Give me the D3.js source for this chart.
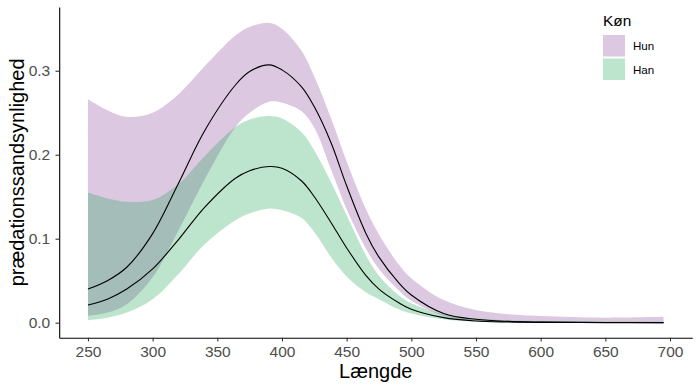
<!DOCTYPE html>
<html>
<head>
<meta charset="utf-8">
<script src="https://cdn.jsdelivr.net/npm/d3@7"></script>
<style>
  html, body { margin: 0; padding: 0; background: #fff; }
  svg { display: block; font-family: "Liberation Sans", Arial, Helvetica, sans-serif; }
</style>
</head>
<body>
<svg id="chart" width="700" height="389"></svg>
<script>
// længde (x) som kurverne er aflæst ved
const lengde = [250, 265, 280, 300, 320, 340, 364, 375, 390, 400, 415, 425, 438, 450, 465, 475, 490, 500, 525, 550, 575, 600, 650, 695];

// Hun: fit + konfidensbånd
const hunFit = [0.040, 0.050, 0.066, 0.106, 0.166, 0.228, 0.283, 0.299, 0.307, 0.301, 0.281, 0.257, 0.214, 0.163, 0.106, 0.078, 0.048, 0.033, 0.011, 0.004, 0.0015, 0.0007, 0.0002, 0.0001];
const hunLo  = [0.008, 0.012, 0.022, 0.054, 0.110, 0.170, 0.233, 0.250, 0.263, 0.262, 0.252, 0.232, 0.182, 0.135, 0.088, 0.064, 0.039, 0.026, 0.008, 0.002, 0.0008, 0.0003, 0.0001, 0.0];
const hunHi  = [0.266, 0.253, 0.245, 0.250, 0.272, 0.305, 0.342, 0.352, 0.357, 0.350, 0.324, 0.293, 0.243, 0.192, 0.135, 0.105, 0.070, 0.053, 0.027, 0.015, 0.010, 0.008, 0.006, 0.007];

// Han: fit + konfidensbånd
const hanFit = [0.021, 0.028, 0.040, 0.064, 0.099, 0.137, 0.172, 0.181, 0.186, 0.184, 0.169, 0.150, 0.119, 0.089, 0.056, 0.040, 0.024, 0.016, 0.006, 0.002, 0.0008, 0.0003, 0.0001, 0.0];
const hanLo  = [0.003, 0.006, 0.012, 0.028, 0.058, 0.093, 0.122, 0.130, 0.136, 0.134, 0.125, 0.108, 0.078, 0.055, 0.036, 0.028, 0.016, 0.011, 0.004, 0.001, 0.0004, 0.0001, 0.0, 0.0];
const hanHi  = [0.155, 0.148, 0.144, 0.146, 0.165, 0.198, 0.233, 0.242, 0.246, 0.243, 0.227, 0.205, 0.167, 0.128, 0.080, 0.056, 0.033, 0.023, 0.010, 0.005, 0.003, 0.002, 0.0015, 0.0015];

const groups = ["Hun", "Han"];
const xTicks = [250, 300, 350, 400, 450, 500, 550, 600, 650, 700];
const yTicks = [0.0, 0.1, 0.2, 0.3];

const colors = { Hun: "#8a489b", Han: "#26a558" };
const fillAlpha = 0.3;

const svg = d3.select("#chart");
svg.append("rect").attr("width", 700).attr("height", 389).attr("fill", "#fff");

// plot-område (ggplot udvider 5% i begge retninger)
const plot = { left: 59.2, right: 692.3, top: 7, bottom: 337.7 };

const x = d3.scaleLinear()
  .domain([227.75, 717.25])
  .range([plot.left, plot.right]);
const y = d3.scaleLinear()
  .domain([-0.0179, 0.3759])
  .range([plot.bottom, plot.top]);

const series = {
  Hun: lengde.map((l, i) => ({ l, fit: hunFit[i], lo: hunLo[i], hi: hunHi[i] })),
  Han: lengde.map((l, i) => ({ l, fit: hanFit[i], lo: hanLo[i], hi: hanHi[i] }))
};

const curve = d3.curveCatmullRom.alpha(0.5);

const area = d3.area()
  .x(d => x(d.l))
  .y0(d => y(d.lo))
  .y1(d => y(d.hi))
  .curve(curve);

const line = d3.line()
  .x(d => x(d.l))
  .y(d => y(d.fit))
  .curve(curve);

// bånd først (Han ovenpå Hun), derefter linjerne
groups.forEach(g => {
  svg.append("path")
    .datum(series[g])
    .attr("d", area)
    .attr("fill", colors[g])
    .attr("fill-opacity", fillAlpha);
});
groups.forEach(g => {
  svg.append("path")
    .datum(series[g])
    .attr("d", line)
    .attr("fill", "none")
    .attr("stroke", "#000")
    .attr("stroke-width", 1.1);
});

// akser
const xAxis = d3.axisBottom(x)
  .tickValues(xTicks)
  .tickSizeInner(3.7)
  .tickSizeOuter(0)
  .tickPadding(4.6);
const gx = svg.append("g")
  .attr("transform", `translate(0,${plot.bottom})`)
  .call(xAxis);

const yAxis = d3.axisLeft(y)
  .tickValues(yTicks)
  .tickFormat(d3.format(".1f"))
  .tickSizeInner(3.7)
  .tickSizeOuter(0)
  .tickPadding(5.3);
const gy = svg.append("g")
  .attr("transform", `translate(${plot.left},0)`)
  .call(yAxis);

[gx, gy].forEach(g => {
  g.select(".domain").attr("stroke", "#000").attr("stroke-width", 1.1);
  g.selectAll(".tick line").attr("stroke", "#333").attr("stroke-width", 1.1);
  g.selectAll(".tick text")
    .attr("fill", "#4d4d4d")
    .style("font-size", "15.5px")
    .style("font-family", "'Liberation Sans', Arial, sans-serif");
});

// aksetitler
svg.append("text")
  .attr("x", (plot.left + plot.right) / 2)
  .attr("y", 378)
  .attr("text-anchor", "middle")
  .style("font-size", "20px")
  .text("Længde");

svg.append("text")
  .attr("transform", `translate(23.5,${(plot.top + plot.bottom) / 2}) rotate(-90)`)
  .attr("text-anchor", "middle")
  .style("font-size", "20px")
  .text("prædationssandsynlighed");

// legende
const legend = svg.append("g").attr("transform", "translate(603,0)");
legend.append("text")
  .attr("x", 0)
  .attr("y", 25.5)
  .style("font-size", "15.4px")
  .text("Køn");

groups.forEach((g, i) => {
  const ky = 35 + i * 23.5;
  legend.append("rect")
    .attr("x", 0)
    .attr("y", ky)
    .attr("width", 22)
    .attr("height", 21.5)
    .attr("fill", colors[g])
    .attr("fill-opacity", fillAlpha);
  legend.append("text")
    .attr("x", 30)
    .attr("y", ky + 15)
    .style("font-size", "11.6px")
    .text(g);
});
</script>
</body>
</html>
